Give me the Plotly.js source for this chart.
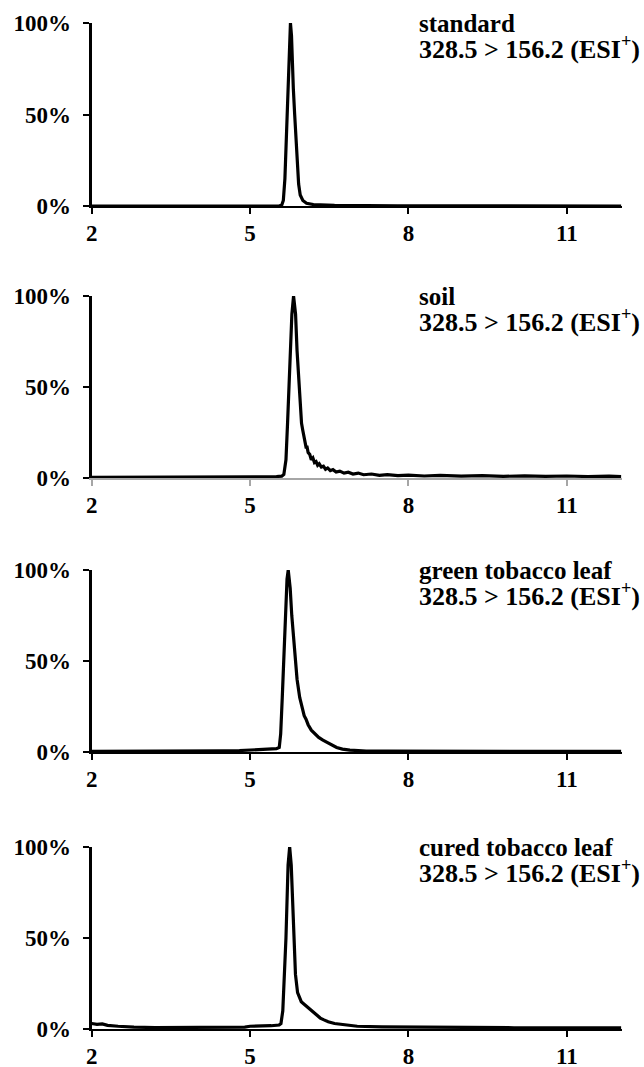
<!DOCTYPE html>
<html>
<head>
<meta charset="utf-8">
<script src="https://cdn.plot.ly/plotly-3.0.1.min.js"></script>
<style>html,body{margin:0;padding:0;background:#fff;}#chart{width:644px;height:1067px;}</style>
</head>
<body>
<div id="chart"></div>
<script>
// Retention time (min) and relative intensity (fraction of max)
const sampleNames = ["standard", "soil", "green tobacco leaf", "cured tobacco leaf"];
const transitionLabel = "328.5 > 156.2 (ESI<sup>+</sup>)";
const xTickVals = [2, 5, 8, 11];
const yTickVals = [0, 0.5, 1];
const yTickText = ["0%", "50%", "100%"];

const stdTime = [2.0, 5.0, 5.55, 5.6, 5.63, 5.66, 5.69, 5.72, 5.745, 5.765, 5.785, 5.8, 5.82, 5.845, 5.87, 5.895, 5.92, 5.95, 6.0, 6.07, 6.2, 6.6, 7.8, 12.03];
const stdInt  = [0, 0, 0, 0.005, 0.03, 0.15, 0.38, 0.65, 0.9, 1.0, 0.93, 0.74, 0.64, 0.5, 0.35, 0.22, 0.12, 0.06, 0.03, 0.015, 0.008, 0.004, 0.001, 0];

const soilTime = [2.0, 3.0, 4.0, 4.5, 5.0, 5.3, 5.5, 5.6, 5.64, 5.68, 5.71, 5.742, 5.77, 5.792, 5.824, 5.845, 5.862, 5.89, 5.925, 5.95, 5.975, 6.0, 6.02, 6.04, 6.06, 6.08, 6.10, 6.13, 6.16, 6.19, 6.22, 6.25, 6.28, 6.31, 6.35, 6.39, 6.43, 6.47, 6.52, 6.57, 6.63, 6.7, 6.78, 6.86, 6.95, 7.05, 7.15, 7.3, 7.45, 7.6, 7.8, 8.0, 8.3, 8.6, 9.0, 9.4, 9.8, 10.2, 10.6, 11.0, 11.4, 11.8, 12.03];
const soilInt  = [0.003, 0.003, 0.004, 0.005, 0.006, 0.007, 0.008, 0.01, 0.02, 0.1, 0.3, 0.5, 0.75, 0.9, 1.0, 0.96, 0.9, 0.7, 0.5, 0.4, 0.3, 0.26, 0.22, 0.21, 0.17, 0.17, 0.14, 0.13, 0.10, 0.11, 0.085, 0.09, 0.07, 0.078, 0.06, 0.065, 0.048, 0.055, 0.04, 0.046, 0.033, 0.038, 0.027, 0.032, 0.022, 0.027, 0.018, 0.022, 0.015, 0.019, 0.013, 0.016, 0.011, 0.014, 0.01, 0.013, 0.009, 0.012, 0.009, 0.011, 0.008, 0.01, 0.008];

const greenTime = [2.0, 3.0, 4.0, 4.5, 4.8, 5.0, 5.2, 5.4, 5.5, 5.553, 5.58, 5.61, 5.64, 5.68, 5.70, 5.723, 5.74, 5.76, 5.79, 5.83, 5.86, 5.89, 5.94, 5.98, 6.025, 6.06, 6.1, 6.16, 6.23, 6.3, 6.38, 6.48, 6.56, 6.64, 6.75, 6.89, 7.05, 7.2, 7.6, 8.0, 9.0, 10.0, 11.0, 12.03];
const greenInt  = [0.003, 0.003, 0.004, 0.006, 0.008, 0.01, 0.012, 0.015, 0.018, 0.025, 0.1, 0.3, 0.5, 0.75, 0.95, 1.0, 0.96, 0.9, 0.75, 0.6, 0.5, 0.4, 0.3, 0.25, 0.2, 0.18, 0.15, 0.12, 0.1, 0.08, 0.065, 0.05, 0.035, 0.025, 0.016, 0.01, 0.008, 0.005, 0.005, 0.004, 0.003, 0.003, 0.003, 0.003];

const curedTime = [2.0, 2.1, 2.2, 2.3, 2.5, 2.8, 3.2, 4.0, 4.5, 4.9, 5.0, 5.2, 5.4, 5.55, 5.585, 5.62, 5.68, 5.72, 5.75, 5.78, 5.83, 5.86, 5.90, 5.97, 6.03, 6.09, 6.15, 6.21, 6.27, 6.33, 6.4, 6.48, 6.6, 6.72, 6.85, 7.03, 7.5, 8.04, 9.0, 10.0, 11.0, 12.03];
const curedInt  = [0.03, 0.025, 0.028, 0.02, 0.015, 0.01, 0.008, 0.007, 0.008, 0.01, 0.015, 0.015, 0.018, 0.022, 0.03, 0.1, 0.5, 0.9, 1.0, 0.9, 0.5, 0.3, 0.2, 0.15, 0.135, 0.12, 0.11, 0.09, 0.075, 0.06, 0.05, 0.04, 0.03, 0.025, 0.02, 0.015, 0.012, 0.01, 0.008, 0.007, 0.007, 0.006];

const seriesTime = [stdTime, soilTime, greenTime, curedTime];
const seriesInt = [stdInt, soilInt, greenInt, curedInt];

// layout geometry (pixels)
const W = 644, H = 1067;
const plotLeft = 91.7, plotRight = 621.7;
const panelTops = [23, 296, 570, 847];
const panelBottoms = [206, 478, 752, 1029];
const xLineColors = ["#000000", "#a6a6a6", "#000000", "#000000"];
const fontFam = "'Liberation Serif', 'Times New Roman', serif";

const data = [];
const layout = {
  width: W, height: H,
  margin: {l: 0, r: 0, t: 0, b: 0},
  paper_bgcolor: "#ffffff", plot_bgcolor: "#ffffff",
  showlegend: false,
  annotations: []
};

for (let i = 0; i < 4; i++) {
  const sfx = i === 0 ? "" : String(i + 1);
  data.push({
    type: "scatter", mode: "lines",
    x: seriesTime[i], y: seriesInt[i],
    xaxis: "x" + sfx, yaxis: "y" + sfx,
    line: {color: "#000000", width: 3.2},
    hoverinfo: "skip"
  });
  const dom = [1 - panelBottoms[i] / H, 1 - panelTops[i] / H];
  layout["xaxis" + sfx] = {
    domain: [plotLeft / W, plotRight / W],
    anchor: "y" + sfx,
    range: [2, 12.04],
    tickvals: xTickVals,
    ticks: "outside", ticklen: 6, tickwidth: 2, tickcolor: xLineColors[i],
    showline: true, linecolor: xLineColors[i], linewidth: 2,
    showgrid: false, zeroline: false,
    ticklabelstandoff: -1,
    tickfont: {family: fontFam, size: 23, color: "#000000", weight: "bold"},
    fixedrange: true
  };
  layout["yaxis" + sfx] = {
    domain: dom,
    anchor: "x" + sfx,
    range: [0, 1],
    tickvals: yTickVals, ticktext: yTickText,
    ticks: "outside", ticklen: 6, tickwidth: 2, tickcolor: "#000000",
    showline: true, linecolor: "#000000", linewidth: 3,
    showgrid: false, zeroline: false,
    ticklabelstandoff: 7,
    tickfont: {family: fontFam, size: 23, color: "#000000", weight: "bold"},
    fixedrange: true
  };
  const h = panelBottoms[i] - panelTops[i];
  layout.annotations.push({
    xref: "paper", yref: "y" + sfx + " domain",
    x: 417 / W, y: 1 + 0 / h, xanchor: "left", yanchor: "middle",
    text: sampleNames[i], showarrow: false, align: "left",
    font: {family: fontFam, size: 25, color: "#000000", weight: "bold"}
  });
  layout.annotations.push({
    xref: "paper", yref: "y" + sfx + " domain",
    x: 417 / W, y: 1 - 24 / h, xanchor: "left", yanchor: "middle",
    text: transitionLabel, showarrow: false, align: "left",
    font: {family: fontFam, size: 26, color: "#000000", weight: "bold"}
  });
}

Plotly.newPlot("chart", data, layout, {displayModeBar: false, staticPlot: true});
</script>
</body>
</html>
